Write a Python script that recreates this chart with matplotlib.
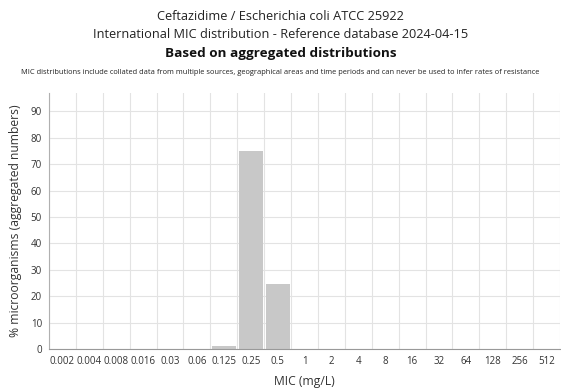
import matplotlib
matplotlib.use("Agg")
import matplotlib.pyplot as plt
import numpy as np

plt.rcParams["font.family"] = ["Open Sans", "DejaVu Sans"]

# data
mic_labels = ["0.002", "0.004", "0.008", "0.016", "0.03", "0.06", "0.125", "0.25", "0.5",
              "1", "2", "4", "8", "16", "32", "64", "128", "256", "512"]
percent = [0, 0, 0, 0, 0, 0, 1.2, 75, 24.5, 0, 0, 0, 0, 0, 0, 0, 0, 0, 0]
yticks = [0, 10, 20, 30, 40, 50, 60, 70, 80, 90]

title1 = "Ceftazidime / Escherichia coli ATCC 25922"
title2 = "International MIC distribution - Reference database 2024-04-15"
title3 = "Based on aggregated distributions"
note = ("MIC distributions include collated data from multiple sources, geographical areas "
        "and time periods and can never be used to infer rates of resistance")

fig = plt.figure(figsize=(5.61, 3.88), dpi=100)
ax = fig.add_axes([49 / 561, 1 - 349 / 388, 511 / 561, 256 / 388])

x = np.arange(len(mic_labels))
ax.bar(x, percent, width=0.9, color="#c8c8c8", zorder=2)

ax.set_xlim(-0.5, len(mic_labels) - 0.5)
ax.set_ylim(0, 97)
ax.set_xticks(x)
ax.set_xticklabels(mic_labels, fontsize=7, color="#333333")
ax.set_yticks(yticks)
ax.tick_params(axis="y", labelsize=7, colors="#333333", length=0, pad=5)
ax.tick_params(axis="x", length=0, pad=5)

# grid at category boundaries
ax.set_xticks(np.arange(len(mic_labels) + 1) - 0.5, minor=True)
ax.tick_params(axis="x", which="minor", length=0)
ax.grid(axis="x", which="minor", color="#e3e3e3", linewidth=0.8, zorder=0)
ax.grid(axis="y", which="major", color="#e3e3e3", linewidth=0.8, zorder=0)

for s in ["top", "right"]:
    ax.spines[s].set_visible(False)
ax.spines["left"].set_color("#b0b0b0")
ax.spines["bottom"].set_color("#999999")

ax.set_ylabel("% microorganisms (aggregated numbers)", fontsize=8.7, color="#333333", labelpad=6)
ax.set_xlabel("MIC (mg/L)", fontsize=8.7, color="#333333", labelpad=6)

fig.text(0.5, 1 - 17 / 388, title1, ha="center", va="center", fontsize=9.2, color="#222222")
fig.text(0.5, 1 - 35 / 388, title2, ha="center", va="center", fontsize=9.2, color="#222222")
fig.text(0.5, 1 - 53 / 388, title3, ha="center", va="center", fontsize=9.7,
         fontweight="bold", color="#111111")
fig.text(0.5, 1 - 73 / 388, note, ha="center", va="center", fontsize=5.4, color="#222222")

fig.savefig("out.png", dpi=100)
